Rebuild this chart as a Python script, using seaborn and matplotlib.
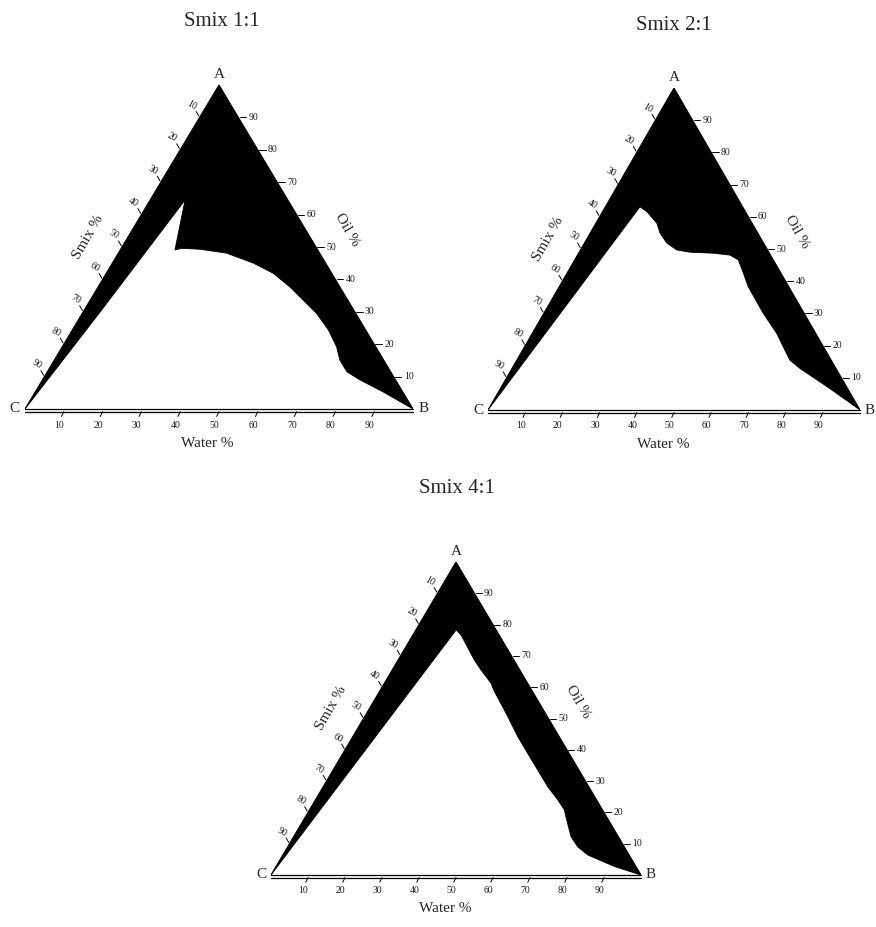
import numpy as np
import matplotlib
matplotlib.use("Agg")
import matplotlib.pyplot as plt
import seaborn as sns

# boundary of the white (non-emulsion) region, as (water %, oil %), from C to B
water_11 = [0, 4.4, 9.0, 14.1, 15.6, 20.5, 27.9, 36.4, 43.0, 49.4, 54.9, 60.4,
            66.0, 70.7, 73.6, 77.2, 81.8, 89.6, 100]
oil_11 = [0, 30.0, 64.5, 49.1, 49.6, 49.3, 48.1, 45.0, 41.9, 37.7, 33.6, 29.5,
          24.4, 19.2, 15.1, 11.5, 9.0, 5.3, 0]

water_21 = [0, 9.3, 11.9, 16.4, 18.8, 22.2, 25.9, 29.8, 36.2, 41.0, 44.0, 47.4,
            50.8, 59.0, 65.7, 70.5, 73.4, 77.4, 88.5, 100]
oil_21 = [0, 63.1, 61.6, 58.0, 54.9, 51.8, 49.7, 49.0, 48.7, 48.1, 46.6, 42.5,
          38.3, 30.0, 23.8, 18.6, 15.5, 12.9, 6.7, 0]

water_41 = [0, 10.9, 13.0, 20.6, 24.0, 28.8, 31.1, 38.7, 44.6, 49.9, 60.7, 65.5,
            68.9, 70.4, 75.0, 78.4, 82.4, 91.5, 100]
oil_41 = [0, 78.3, 76.7, 68.7, 65.5, 61.3, 58.6, 50.6, 44.2, 38.9, 28.2, 24.0,
          20.8, 18.6, 12.2, 9.0, 6.4, 2.7, 0]

ticks = [10, 20, 30, 40, 50, 60, 70, 80, 90]
titles = ["Smix 1:1", "Smix 2:1", "Smix 4:1"]

sns.set_style("white")
plt.rcParams["font.family"] = ["Liberation Serif", "DejaVu Serif"]

H = np.sqrt(3) / 2


def to_xy(water, oil):
    water = np.asarray(water, float)
    oil = np.asarray(oil, float)
    return water + oil / 2, oil * H


def draw_ternary(ax, water, oil):
    x, y = to_xy(water, oil)
    # black region: inner boundary C -> B, then B -> A -> C
    px = np.concatenate([x, [50, 0]])
    py = np.concatenate([y, [100 * H, 0]])
    ax.fill(px, py, color="black", lw=0)
    sns.lineplot(x=x, y=y, sort=False, color="black", lw=0.6, ax=ax)

    # triangle edges
    ax.plot([0, 50, 100], [0, 100 * H, 0], color="black", lw=0.8)
    ax.plot([0, 100], [0, 0], color="black", lw=0.9, clip_on=False)
    ax.plot([0, 100], [-0.7, -0.7], color="black", lw=0.9, clip_on=False)

    tk = dict(fontsize=7, color="#1a1a1a")
    for t in ticks:
        # bottom: water
        ax.plot([t, t - 0.6], [-0.7, -2.0], color="black", lw=0.7, clip_on=False)
        ax.text(t - 1.2, -4.3, str(t), ha="center", va="center", **tk)
        # right: oil
        ex, ey = 100 - t / 2, t * H
        ax.plot([ex + 0.3, ex + 2.0], [ey, ey], color="black", lw=0.7, clip_on=False)
        ax.text(ex + 2.6, ey, str(t), ha="left", va="center", **tk)
        # left: smix (100 at C)
        o = 100 - t
        lx, ly = o / 2, o * H
        ax.plot([lx - 0.2, lx - 0.9], [ly + 0.35, ly + 1.6], color="black", lw=0.7,
                clip_on=False)
        ax.text(lx - 2.0, ly + 3.3, str(t), ha="center", va="center", rotation=-30, **tk)

    # axis titles
    o = 48
    ax.text(o / 2 - 9 * H, o * H + 9 * 0.5, "Smix %", rotation=60, ha="center",
            va="center", fontsize=11)
    o = 50
    ax.text(100 - o / 2 + 9.3 * H, o * H + 9.3 * 0.5, "Oil %", rotation=-60,
            ha="center", va="center", fontsize=11)
    ax.text(47, -9.3, "Water %", ha="center", va="center", fontsize=11)

    # vertices
    ax.text(50, 100 * H + 1.0, "A", ha="center", va="bottom", fontsize=11)
    ax.text(-1.3, 0, "C", ha="right", va="center", fontsize=11)
    ax.text(101.3, 0, "B", ha="left", va="center", fontsize=11)

    ax.set_xlim(0, 100)
    ax.set_ylim(0, 100 * H)
    ax.set_axis_off()


W, Hpx = 876, 927
fig = plt.figure(figsize=(W / 100, Hpx / 100), dpi=100)
fig.patch.set_facecolor("white")

# panel boxes in pixels: left, bottom-edge y, width, height
boxes = [(25, 409, 388, 324), (488, 410, 372, 322), (271, 875, 370, 313)]
data = [(water_11, oil_11), (water_21, oil_21), (water_41, oil_41)]
title_pos = [(222, 22), (674, 25), (457, 488)]

for (l, b, w, h), (wa, oi), title, (tx, ty) in zip(boxes, data, titles, title_pos):
    ax = fig.add_axes([l / W, (Hpx - b) / Hpx, w / W, h / Hpx])
    draw_ternary(ax, wa, oi)
    fig.text(tx / W, 1 - ty / Hpx, title, ha="center", va="center", fontsize=15)

fig.savefig("out.png", dpi=100, facecolor="white")
